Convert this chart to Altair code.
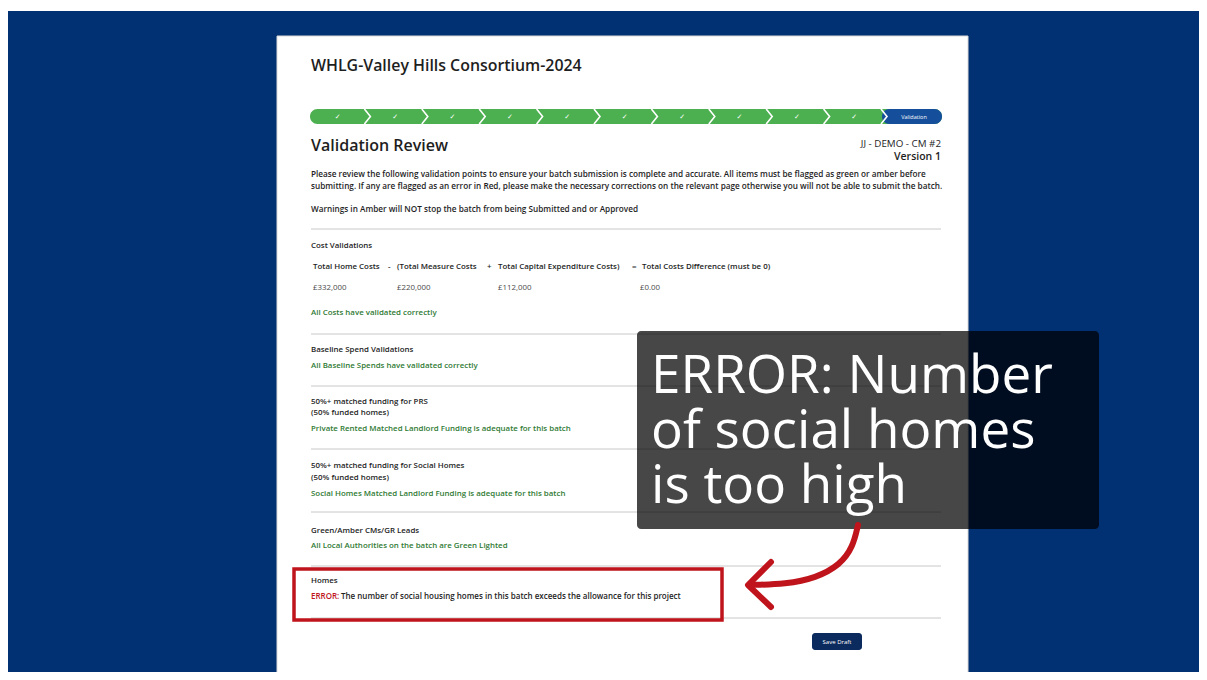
import altair as alt
import pandas as pd

PAGE_W, PAGE_H, MARGIN = 1207, 680, 8
VIEW_W, VIEW_H = 1191, 664   # drawable area so the page does not overflow the window

# ---------------- content ----------------
title = "WHLG-Valley Hills Consortium-2024"
section_title = "Validation Review"
batch_ref = "JJ - DEMO - CM #2"
batch_version = "Version 1"
intro_lines = [
    "Please review the following validation points to ensure your batch submission is complete and accurate. All items must be flagged as green or amber before",
    "submitting. If any are flagged as an error in Red, please make the necessary corrections on the relevant page otherwise you will not be able to submit the batch.",
    "Warnings in Amber will NOT stop the batch from being Submitted and or Approved",
]
cost_header = ["Total Home Costs", "-", "(Total Measure Costs", "+",
               "Total Capital Expenditure Costs)", "=", "Total Costs Difference (must be 0)"]
cost_values = ["£332,000", "£220,000", "£112,000", "£0.00"]
section_heads = ["Cost Validations", "Baseline Spend Validations", "50%+ matched funding for PRS",
                 "(50% funded homes)", "50%+ matched funding for Social Homes", "(50% funded homes)",
                 "Green/Amber CMs/GR Leads", "Homes"]
section_ok = ["All Costs have validated correctly",
              "All Baseline Spends have validated correctly",
              "Private Rented Matched Landlord Funding is adequate for this batch",
              "Social Homes Matched Landlord Funding is adequate for this batch",
              "All Local Authorities on the batch are Green Lighted"]
error_label = "ERROR:"
error_msg = "The number of social housing homes in this batch exceeds the allowance for this project"
callout_lines = ["ERROR: Number", "of social homes", "is too high"]
button_label = "Save Draft"
n_steps_done = 10
current_step = "Validation"

# ---------------- layout (reference pixel space) ----------------
intro_y = [175, 187, 210]
head_y = [246, 350, 402, 413, 466, 478, 531, 581]
ok_y = [313, 366, 429, 494, 546]
cost_header_x = [313, 388, 397, 487, 498, 632, 642]
cost_value_x = [313, 397, 498, 640]
divider_y = [229, 334, 386, 449, 512, 566, 618]
callout_baseline = [393, 448, 503]
bar_x0, bar_x1, bar_y0, bar_y1 = 310, 942, 109, 124
step_w = 57.4
arrow_curve_x = [858, 853, 840, 816, 786, 750]
arrow_curve_y = [525, 547, 565, 578, 584, 585]
arrow_head_x = [771, 748, 771]
arrow_head_y = [562, 585, 607]

UI = "Open Sans"
DARK = "#1e1e1e"
GREEN = "#2f7a34"
RED = "#c0141c"

XS = alt.Scale(domain=[MARGIN, MARGIN + VIEW_W], nice=False, zero=False)
YS = alt.Scale(domain=[MARGIN, MARGIN + VIEW_H], nice=False, zero=False, reverse=True)


def enc_xy(x="x", y="y"):
    return dict(x=alt.X(f"{x}:Q", scale=XS, axis=None), y=alt.Y(f"{y}:Q", scale=YS, axis=None))


def rect(x0, x1, y0, y1, **mk):
    df = pd.DataFrame({"x": [x0], "x2": [x1], "y": [y0], "y2": [y1]})
    return alt.Chart(df).mark_rect(**mk).encode(
        **enc_xy(), x2=alt.X2("x2:Q"), y2=alt.Y2("y2:Q"))


def texts(xs, ys, ts, size, color, weight="normal", align="left", font=UI, baseline="middle"):
    df = pd.DataFrame({"x": xs, "y": ys, "t": ts})
    return alt.Chart(df).mark_text(align=align, baseline=baseline, fontSize=size,
                                   fontWeight=weight, color=color, font=font).encode(
        **enc_xy(), text="t:N")


layers = []
# background & card
layers.append(rect(6, PAGE_W, 11, PAGE_H, color="#023173"))
layers.append(rect(277, 968, 36, 673, color="#ffffff", stroke="#d9d9d9", strokeWidth=1))

# progress bar
layers.append(rect(bar_x0, bar_x1, bar_y0, bar_y1, color="#4caf50", cornerRadius=7.5))
blue_x0 = bar_x0 + step_w * n_steps_done
layers.append(rect(blue_x0 - 2, bar_x1, bar_y0, bar_y1, color="#154f9b", cornerRadius=7.5))
chev = []
for k in range(1, n_steps_done + 1):
    b = bar_x0 + step_w * k
    for i, (dx, yy) in enumerate([(-3, bar_y0), (3, (bar_y0 + bar_y1) / 2), (-3, bar_y1)]):
        chev.append({"k": k, "i": i, "x": b + dx, "y": yy})
layers.append(alt.Chart(pd.DataFrame(chev)).mark_line(color="white", strokeWidth=1.6).encode(
    **enc_xy(), detail="k:N", order="i:Q"))
check_x = [bar_x0 + step_w * (k + 0.5) - 1 for k in range(n_steps_done)]
layers.append(texts(check_x, [116.5] * n_steps_done, ["✓"] * n_steps_done, 7, "white",
                    align="center", font="DejaVu Sans"))
layers.append(texts([(blue_x0 + bar_x1) / 2 + 1], [116.5], [current_step], 5.5, "white", align="center"))

# headings
layers.append(texts([311], [66], [title], 15.9, DARK, weight=600))
layers.append(texts([311], [146], [section_title], 16, DARK, weight=600))
layers.append(texts([941], [144], [batch_ref], 9.8, DARK, align="right"))
layers.append(texts([941], [157], [batch_version], 10.5, DARK, weight=600, align="right"))

# intro text
layers.append(texts([311] * 3, intro_y, intro_lines, 8.2, DARK, weight=600))

# dividers
dv = pd.DataFrame({"x": [311] * len(divider_y), "x2": [941] * len(divider_y), "y": divider_y})
layers.append(alt.Chart(dv).mark_rule(color="#c8c8c8", strokeWidth=1).encode(
    **enc_xy(), x2=alt.X2("x2:Q")))

# sections
layers.append(texts([311] * len(head_y), head_y, section_heads, 7.9, DARK, weight=600))
layers.append(texts(cost_header_x, [267] * len(cost_header), cost_header, 7.9, DARK, weight=600))
layers.append(texts(cost_value_x, [288] * len(cost_values), cost_values, 7.9, "#4a4a4a"))
layers.append(texts([311] * len(ok_y), ok_y, section_ok, 7.9, GREEN, weight=600))

# error block
layers.append(texts([311], [597], [error_label], 8, RED, weight=600))
layers.append(texts([341], [597], [error_msg], 8, DARK, weight=600))
layers.append(rect(294, 722, 569, 620, fillOpacity=0, stroke=RED, strokeWidth=3.5))

# button
layers.append(rect(812, 862, 633, 650, color="#0b2b5e", cornerRadius=3))
layers.append(texts([837], [641.5], [button_label], 6, "white", align="center"))

# callout
layers.append(rect(637, 1099, 331, 529, color="#000000", opacity=0.72, cornerRadius=4))
layers.append(texts([651] * 3, callout_baseline, callout_lines, 53, "white", baseline="alphabetic"))

# arrow
curve = pd.DataFrame({"i": range(len(arrow_curve_x)), "x": arrow_curve_x, "y": arrow_curve_y})
layers.append(alt.Chart(curve).mark_line(color=RED, strokeWidth=6, strokeCap="round",
                                         interpolate="basis").encode(**enc_xy(), order="i:Q"))
head = pd.DataFrame({"i": range(3), "x": arrow_head_x, "y": arrow_head_y})
layers.append(alt.Chart(head).mark_line(color=RED, strokeWidth=6, strokeCap="round",
                                        strokeJoin="round").encode(**enc_xy(), order="i:Q"))

chart = alt.layer(*layers).properties(
    width=VIEW_W, height=VIEW_H, padding=0, autosize="none",
    background="white").configure_view(stroke=None)

chart.save("out.html", embed_options={"renderer": "svg", "actions": False})
